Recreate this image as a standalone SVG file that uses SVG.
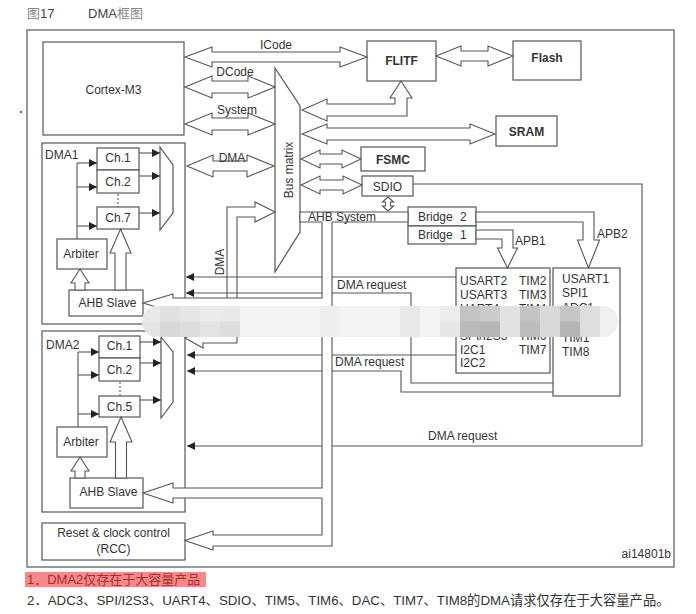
<svg xmlns="http://www.w3.org/2000/svg" width="696" height="614" viewBox="0 0 696 614">
<defs>
<style>
.b{fill:#fff;stroke:#555;stroke-width:1.2}
.p{fill:#fff;stroke:#555;stroke-width:1.1}
.l{fill:none;stroke:#555;stroke-width:1.1}
.a{fill:none;stroke:#555;stroke-width:1.1;marker-end:url(#ah)}
.t{font-family:"Liberation Sans",Arial,sans-serif;font-size:12px;fill:#333}
.c{text-anchor:middle}
.bd{font-weight:bold}
.cjk{font-family:"Liberation Sans","Noto Sans CJK SC",sans-serif}
</style>
<marker id="ah" markerUnits="userSpaceOnUse" markerWidth="10" markerHeight="10" refX="8" refY="4" orient="auto"><path d="M0,0L8,4L0,8z" fill="#222"/></marker>
<clipPath id="bc"><rect x="142" y="306" width="476" height="31" rx="15.5"/></clipPath>
</defs>
<rect width="696" height="614" fill="#fff"/>
<g id="title" class="cjk" font-size="13">
<text x="27" y="18" fill="#444"><tspan fill="#888">图</tspan>17</text>
<text x="88" y="18" fill="#444">DMA<tspan fill="#888">框图</tspan></text>
</g>
<circle cx="21" cy="112" r="1.2" fill="#d33"/>
<rect id="frame" x="27" y="30" width="647" height="537" class="b"/>
<g id="cortex"><rect x="43" y="42" width="141" height="93" class="b"/><text x="113.5" y="94" class="t c">Cortex-M3</text></g>
<g id="flitf"><rect x="367" y="41" width="69" height="40" class="b"/><text x="401.5" y="65" class="t c bd">FLITF</text></g>
<g id="flash"><rect x="513" y="41" width="68" height="39" class="b"/><text x="547" y="62" class="t c bd">Flash</text></g>
<g id="sram"><rect x="496" y="116" width="61" height="30" class="b"/><text x="526.5" y="136" class="t c bd" font-size="13">SRAM</text></g>
<g id="fsmc"><rect x="361" y="147" width="64" height="24" class="b"/><text x="393" y="164" class="t c bd" font-size="13.5">FSMC</text></g>
<g id="sdio"><rect x="362" y="176" width="51" height="20" class="b"/><text x="387.5" y="190.5" class="t c">SDIO</text></g>
<g id="busmatrix"><polygon points="275,68 300,106 300,232 275,272" class="b"/><text transform="translate(293,170) rotate(-90)" class="t c">Bus matrix</text></g>
<g id="bridge2"><rect x="408" y="207" width="68" height="19" class="b"/><text x="418" y="220.5" class="t" word-spacing="4">Bridge 2</text></g>
<g id="bridge1"><rect x="408" y="226" width="68" height="18" class="b"/><text x="418" y="238.5" class="t" word-spacing="4">Bridge 1</text></g>
<g id="apb1-periph"><rect x="456" y="268" width="94" height="105" class="b"/>
<text class="t"><tspan x="460" y="285">USART2</tspan><tspan x="460" y="298.8">USART3</tspan><tspan x="460" y="312.6">UART4</tspan><tspan x="460" y="340">SPI/I2S3</tspan><tspan x="460" y="353.5">I2C1</tspan><tspan x="460" y="367.3">I2C2</tspan></text>
<text class="t"><tspan x="519" y="285">TIM2</tspan><tspan x="519" y="298.8">TIM3</tspan><tspan x="519" y="312.6">TIM4</tspan><tspan x="519" y="340">TIM6</tspan><tspan x="519" y="354">TIM7</tspan></text></g>
<g id="apb2-periph"><rect x="553" y="268" width="67" height="128" class="b"/>
<text class="t"><tspan x="562" y="283">USART1</tspan><tspan x="562" y="297">SPI1</tspan><tspan x="562" y="312">ADC1</tspan><tspan x="562" y="341.5">TIM1</tspan><tspan x="562" y="356">TIM8</tspan></text></g>
<g id="dma1"><rect x="42" y="143" width="143" height="181" class="b"/><text x="45" y="159" class="t" font-size="11.5">DMA1</text>
<g id="dma1-ch1"><rect x="97" y="148" width="42" height="22" class="b"/><text x="118" y="162" class="t c">Ch.1</text></g>
<g id="dma1-ch2"><rect x="97" y="170" width="42" height="23" class="b"/><text x="118" y="186" class="t c">Ch.2</text></g>
<g id="dma1-ch7"><rect x="97" y="207" width="42" height="22" class="b"/><text x="118" y="222" class="t c">Ch.7</text></g>
<g id="dma1-mux"><polygon points="160,147 173,165 173,213 160,230" class="b"/></g>
<g id="dma1-arbiter"><rect x="57" y="239" width="50" height="30" class="b"/><text x="81" y="258" class="t c">Arbiter</text></g>
<g id="dma1-ahbslave"><rect x="69" y="290" width="74" height="26" class="b"/><text x="107.5" y="307" class="t c">AHB Slave</text></g>
</g>
<g id="dma2"><rect x="42" y="331" width="143" height="181" class="b"/><text x="46" y="349" class="t" font-size="11.5">DMA2</text>
<g id="dma2-ch1"><rect x="99" y="336" width="41" height="22" class="b"/><text x="119.5" y="350" class="t c">Ch.1</text></g>
<g id="dma2-ch2"><rect x="99" y="358" width="41" height="23" class="b"/><text x="119.5" y="374" class="t c">Ch.2</text></g>
<g id="dma2-ch5"><rect x="99" y="396" width="41" height="21" class="b"/><text x="119.5" y="411" class="t c">Ch.5</text></g>
<g id="dma2-mux"><polygon points="161,337 173,352 173,402 161,418" class="b"/></g>
<g id="dma2-arbiter"><rect x="57" y="427" width="50" height="30" class="b"/><text x="81" y="446" class="t c">Arbiter</text></g>
<g id="dma2-ahbslave"><rect x="70" y="478" width="73" height="30" class="b"/><text x="108.5" y="496" class="t c">AHB Slave</text></g>
</g>
<g id="rcc"><rect x="42" y="523" width="143" height="37" class="b"/><text x="113.5" y="537" class="t c">Reset &amp; clock control</text><text x="113.5" y="553" class="t c">(RCC)</text></g>
<text id="ref" x="671" y="558" class="t" font-size="9" text-anchor="end">ai14801b</text>
<g id="connectors">
<polygon class="p" points="185,57 212,47 212,52 340,52 340,47 367,57 340,67 340,62 212,62 212,67"/>
<polygon class="p" points="436,56 461,46 461,51 488,51 488,46 513,56 488,66 488,61 461,61 461,66"/>
<polygon class="p" points="185,87 212,76 212,81 248,81 248,76 275,87 248,98 248,93 212,93 212,98"/>
<polygon class="p" points="185,124 212,113 212,118 248,118 248,113 275,124 248,135 248,130 212,130 212,135"/>
<polygon class="p" points="187,166 213,155 213,161 247,161 247,155 274,166 247,177 247,171 213,171 213,177"/>
<polygon class="p" points="302,110 327,99 327,104 395,104 395,98 390,98 401,81 412,98 407,98 407,116 327,116 327,121"/>
<polygon class="p" points="302,134 327,124 327,128 470,128 470,124 495,134 470,144 470,140 327,140 327,144"/>
<polygon class="p" points="301,159 320,150 320,154 342,154 342,150 361,159 342,168 342,164 320,164 320,168"/>
<polygon class="p" points="301,185 320,176 320,180 343,180 343,176 362,185 343,194 343,190 320,190 320,194"/>
<polygon class="p" points="388,197 393.5,202 390.5,202 390.5,206 393.5,206 388,211 382.5,206 385.5,206 385.5,202 382.5,202"/>
<polygon class="p" points="476,230 513,230 513,248 517.5,248 507.5,268 497.5,248 502,248 502,239 476,239"/>
<polygon class="p" points="476,212 594,212 594,240 599.5,240 588.5,268 577.5,240 583,240 583,222 476,222"/>
<polygon class="p" points="185,338 203,328 203,333 227,333 227,207 255,207 255,202 275,212 255,222 255,217 237,217 237,343 203,343 203,348"/>
<path class="l" d="M77,163V239M78,352V427"/>
<path class="l" d="M118,194V207M120,382V396" stroke-dasharray="2,2"/>
<line class="a" x1="139" y1="153" x2="160" y2="153"/>
<line class="a" x1="139" y1="176" x2="160" y2="176"/>
<line class="a" x1="139" y1="213" x2="160" y2="213"/>
<line class="a" x1="77" y1="163" x2="97" y2="163"/>
<line class="a" x1="77" y1="187" x2="97" y2="187"/>
<line class="a" x1="77" y1="226" x2="97" y2="226"/>
<line class="a" x1="140" y1="342" x2="161" y2="342"/>
<line class="a" x1="140" y1="363" x2="161" y2="363"/>
<line class="a" x1="140" y1="400" x2="161" y2="400"/>
<line class="a" x1="78" y1="352" x2="99" y2="352"/>
<line class="a" x1="78" y1="375" x2="99" y2="375"/>
<line class="a" x1="78" y1="414" x2="99" y2="414"/>
<polygon class="p" points="80,269 89,283 85,283 85,290 75,290 75,283 71,283"/>
<polygon class="p" points="120.5,229 131,253 126,253 126,290 115,290 115,253 110,253"/>
<polygon class="p" points="80,457 89,471 85,471 85,478 75,478 75,471 71,471"/>
<polygon class="p" points="121,417 132,442 126.5,442 126.5,478 115.5,478 115.5,442 110,442"/>
<polyline class="a" points="456,277 186,277"/>
<polyline class="a" points="553,383 411,383 411,293 186,293"/>
<polyline class="a" points="456,355 187,355"/>
<polyline class="a" points="553,392 401,392 401,371 187,371"/>
<polyline class="a" points="413,184 642,184 642,446 187,446"/>
<polygon class="p" points="300,212 408,212 408,222 332,222 332,546 213,546 213,550 185,540.5 213,531 213,535 322,535 322,498 173,498 173,503 143,493 173,483 173,488 322,488 322,308 173,308 173,312 143,303 173,294 173,298 322,298 322,222 300,222"/>
<text x="276" y="49" class="t c">ICode</text>
<text x="235" y="76" class="t c">DCode</text>
<text x="237" y="114" class="t c">System</text>
<text x="232" y="162" class="t c">DMA</text>
<text transform="translate(224,262) rotate(-90)" class="t c">DMA</text>
<text x="308" y="221" class="t" font-size="11.5">AHB System</text>
<text x="515" y="245" class="t" font-size="11.5">APB1</text>
<text x="597" y="238" class="t" font-size="11.5">APB2</text>
<text x="337" y="289" class="t">DMA request</text>
<text x="335" y="366" class="t">DMA request</text>
<text x="428" y="440" class="t">DMA request</text>
</g>
<g id="blur" clip-path="url(#bc)">
<rect x="140" y="306" width="480" height="31" fill="#f3f3f3"/>
<g>
<rect x="140" y="306" width="20" height="16" fill="#e8e8e8"/><rect x="140" y="321.5" width="20" height="16" fill="#e4e4e4"/>
<rect x="160" y="306" width="20" height="16" fill="#e0e0e0"/><rect x="160" y="321.5" width="20" height="16" fill="#d8d8d8"/>
<rect x="180" y="306" width="20" height="16" fill="#e5e5e5"/><rect x="180" y="321.5" width="20" height="16" fill="#dcdcdc"/>
<rect x="200" y="306" width="20" height="16" fill="#ebebeb"/><rect x="200" y="321.5" width="20" height="16" fill="#e3e3e3"/>
<rect x="220" y="306" width="20" height="16" fill="#e9e9e9"/><rect x="220" y="321.5" width="20" height="16" fill="#dddddd"/>
<rect x="320" y="306" width="20" height="31" fill="#eeeeee"/>
<rect x="400" y="306" width="20" height="31" fill="#e8e8e8"/>
<rect x="440" y="306" width="20" height="16" fill="#ececec"/><rect x="440" y="321.5" width="20" height="16" fill="#e6e6e6"/>
<rect x="460" y="306" width="20" height="16" fill="#c3c3c3"/><rect x="460" y="321.5" width="20" height="16" fill="#bababa"/>
<rect x="480" y="306" width="20" height="16" fill="#cbcbcb"/><rect x="480" y="321.5" width="20" height="16" fill="#b6b6b6"/>
<rect x="500" y="306" width="20" height="31" fill="#e2e2e2"/>
<rect x="520" y="306" width="20" height="16" fill="#c4c4c4"/><rect x="520" y="321.5" width="20" height="16" fill="#bdbdbd"/>
<rect x="540" y="306" width="20" height="31" fill="#d9d9d9"/>
<rect x="560" y="306" width="20" height="16" fill="#c6c6c6"/><rect x="560" y="321.5" width="20" height="16" fill="#b4b4b4"/>
<rect x="580" y="306" width="20" height="31" fill="#dedede"/>
<rect x="600" y="306" width="20" height="31" fill="#efefef"/>
</g>
</g>
<g id="notes" class="cjk" font-size="13">
<rect x="25" y="572" width="181" height="15" fill="#f28a8a"/>
<text x="27" y="584" fill="#b02a2a">1．DMA2仅存在于大容量产品</text>
<text x="27" y="605" fill="#333" font-size="13.3">2．ADC3、SPI/I2S3、UART4、SDIO、TIM5、TIM6、DAC、TIM7、TIM8的DMA请求仅存在于大容量产品。</text>
</g>
</svg>
